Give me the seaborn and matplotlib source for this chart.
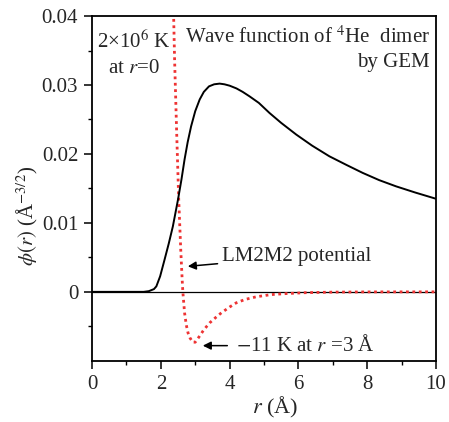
import matplotlib
matplotlib.use("Agg")
import matplotlib.pyplot as plt
import seaborn as sns
import pandas as pd

# GEM wave function of the 4He dimer, phi(r) in Å^-3/2
r_wave = [0.0, 1.0, 1.5, 1.65, 1.8, 1.87, 1.98, 2.11, 2.23, 2.35, 2.50, 2.60,
          2.69, 2.78, 2.88, 3.0, 3.13, 3.25, 3.4, 3.55, 3.71, 3.85, 4.0, 4.2,
          4.38, 4.58, 4.85, 5.16, 5.5, 5.94, 6.4, 6.90, 7.4, 7.87, 8.35, 8.84,
          9.4, 10.0]
phi_wave = [0.0, 0.0, 0.0, 0.0001, 0.0004, 0.0008, 0.00226, 0.0047, 0.0070,
            0.0095, 0.0134, 0.0163, 0.0192, 0.0217, 0.0240, 0.0262, 0.0279,
            0.0290, 0.0298, 0.0301, 0.0302, 0.0301, 0.0299, 0.0295, 0.0290,
            0.02835, 0.0274, 0.02594, 0.0245, 0.0228, 0.0212, 0.01966, 0.0184,
            0.01725, 0.0162, 0.0153, 0.0144, 0.0135]

# LM2M2 potential, scaled onto the same axis (-11 K at r = 3 Å)
r_pot = [2.37, 2.40, 2.46, 2.52, 2.58, 2.62, 2.64, 2.69, 2.74, 2.79, 2.85,
         2.93, 3.0, 3.125, 3.25, 3.42, 3.6, 3.76, 4.0, 4.19, 4.45, 4.77, 5.2,
         5.65, 6.2, 7.0, 8.0, 10.0]
v_pot = [0.0405, 0.0337, 0.0232, 0.0134, 0.0060, 0.0018, 0.0, -0.00304,
         -0.0048, -0.00594, -0.0067, -0.0073, -0.0073, -0.00643, -0.0055,
         -0.0045, -0.0037, -0.00304, -0.0022, -0.0016, -0.0011, -0.00072,
         -0.0004, -0.00025, -0.00012, -0.00004, -0.00001, 0.0]

wave = pd.DataFrame({"r": r_wave, "phi": phi_wave})
pot = pd.DataFrame({"r": r_pot, "v": v_pot})

sns.set_style("ticks")
plt.rcParams["font.family"] = ["Liberation Serif", "DejaVu Serif"]
plt.rcParams["mathtext.fontset"] = "stix"

fig = plt.figure(figsize=(4.49, 4.22), dpi=100)
ax = fig.add_axes([0.205, 0.145, 0.766, 0.817])

ax.axhline(0, color="black", lw=0.9, zorder=1)
sns.lineplot(data=wave, x="r", y="phi", ax=ax, color="black", lw=1.4,
             sort=False, zorder=3)
sns.lineplot(data=pot, x="r", y="v", ax=ax, color="#ee3333", lw=2.0,
             linestyle=(0, (1, 1.3)), sort=False, zorder=2)

ax.set_xlim(0, 10)
ax.set_ylim(-0.01, 0.04)
ax.set_xticks([0, 2, 4, 6, 8, 10])
ax.set_xticks(range(0, 11), minor=True)
ax.set_yticks([0, 0.01, 0.02, 0.03, 0.04])
ax.set_yticklabels(["0", "0.01", "0.02", "0.03", "0.04"])
ax.set_yticks([-0.005, 0.005, 0.015, 0.025, 0.035], minor=True)
ax.tick_params(axis="both", which="major", length=6, width=1.1,
               labelsize=15, direction="out", color="black", pad=4)
ax.tick_params(axis="both", which="minor", length=3, width=1.0,
               direction="out", color="black")
for s in ax.spines.values():
    s.set_color("black")
    s.set_linewidth(1.3)

ax.set_xlabel(r"$r$ (Å)", fontsize=16)
ax.xaxis.set_label_coords(0.532, -0.1)
ax.set_ylabel(r"$\phi(r)$ (Å$^{-3/2}$)", fontsize=15)
ax.yaxis.set_label_coords(-0.15, 0.42)

ax.text(0.122, 0.925, r"2×10$^6$ K", transform=ax.transAxes, ha="center",
        va="center", fontsize=15)
ax.text(0.122, 0.849, r"at $r$=0", transform=ax.transAxes, ha="center",
        va="center", fontsize=15)
ax.text(0.983, 0.94, r"Wave function of $^4$He  dimer",
        transform=ax.transAxes, ha="right", va="center", fontsize=15)
ax.text(0.983, 0.866, "by GEM", transform=ax.transAxes, ha="right",
        va="center", fontsize=15)

ax.annotate("LM2M2 potential", xy=(2.785, 0.0037), xytext=(3.785, 0.0051),
            ha="left", va="center", fontsize=15,
            arrowprops=dict(arrowstyle="-|>", color="black", lw=1.1,
                            mutation_scale=12, shrinkA=1, shrinkB=0))
ax.annotate(r"$-$11 K at $r$ =3 Å", xy=(3.22, -0.0078), xytext=(4.19, -0.0078),
            ha="left", va="center", fontsize=15,
            arrowprops=dict(arrowstyle="-|>", color="black", lw=1.1,
                            mutation_scale=12, shrinkA=4, shrinkB=0))

fig.savefig("out.png", dpi=100)
